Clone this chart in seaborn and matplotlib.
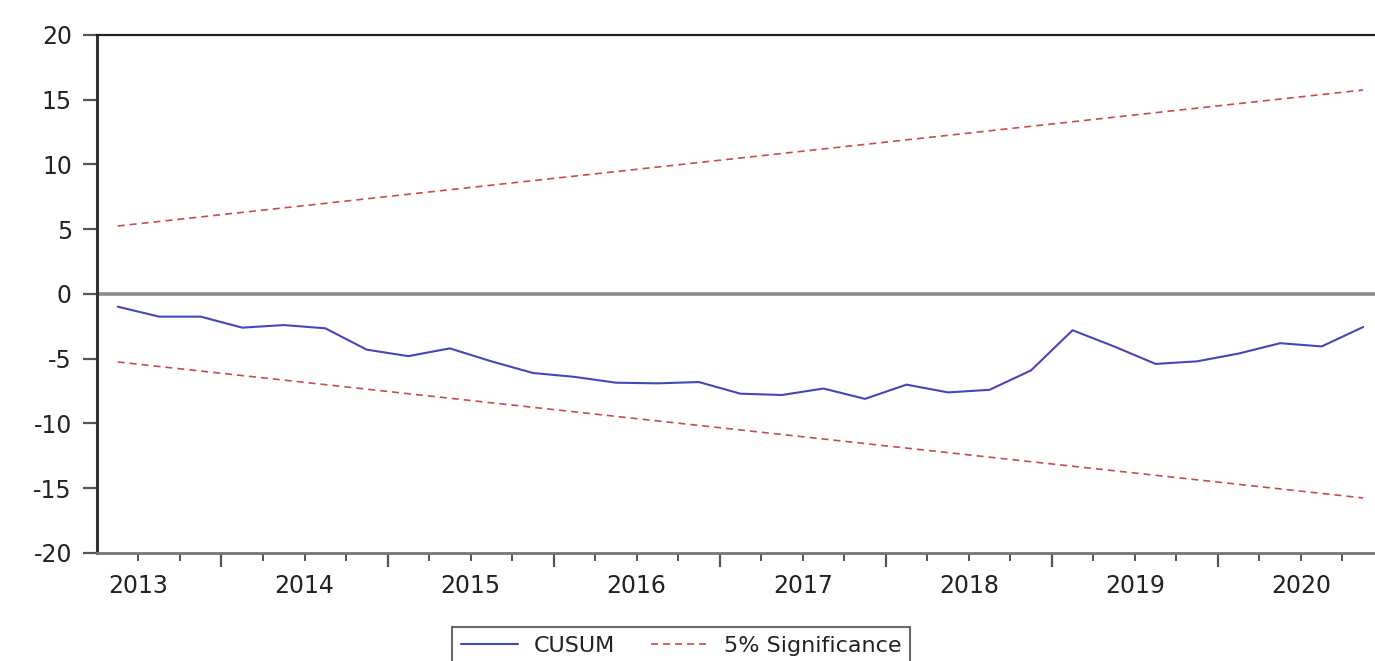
import numpy as np
import pandas as pd
import matplotlib.pyplot as plt
import seaborn as sns
from matplotlib.ticker import FixedLocator, FuncFormatter, MultipleLocator, NullFormatter

sns.set_style('ticks')
plt.rcParams['font.family'] = ['DejaVu Sans']
plt.rcParams['axes.unicode_minus'] = False

quarters = ['2013Q2', '2013Q3', '2013Q4',
            '2014Q1', '2014Q2', '2014Q3', '2014Q4',
            '2015Q1', '2015Q2', '2015Q3', '2015Q4',
            '2016Q1', '2016Q2', '2016Q3', '2016Q4',
            '2017Q1', '2017Q2', '2017Q3', '2017Q4',
            '2018Q1', '2018Q2', '2018Q3', '2018Q4',
            '2019Q1', '2019Q2', '2019Q3', '2019Q4',
            '2020Q1', '2020Q2', '2020Q3', '2020Q4']
cusum = [-0.98, -1.75, -1.75,
         -2.6, -2.4, -2.65, -4.3,
         -4.8, -4.2, -5.2, -6.1,
         -6.4, -6.85, -6.9, -6.8,
         -7.7, -7.8, -7.3, -8.1,
         -7.0, -7.6, -7.4, -5.9,
         -2.8, -4.05, -5.4, -5.2,
         -4.6, -3.8, -4.05, -2.55]

# 5% significance bounds are straight lines between first and last obs
bound_quarters = ['2013Q2', '2020Q4']
upper_5pct = [5.25, 15.75]
lower_5pct = [-5.25, -15.75]


def qpos(q):
    # centre of the quarter on a decimal-year axis
    return int(q[:4]) + (int(q[-1]) - 1) / 4 + 0.125


df = pd.DataFrame({'t': [qpos(q) for q in quarters], 'cusum': cusum})
bounds = pd.DataFrame({'t': [qpos(q) for q in bound_quarters],
                       'upper': upper_5pct, 'lower': lower_5pct})

fig = plt.figure(figsize=(13.75, 6.61), dpi=100)
ax = fig.add_axes([0.0705, 0.1634, 0.936, 0.7837])

ax.axhline(0, color='#8c8c8c', lw=2.6, zorder=1)
sns.lineplot(data=df, x='t', y='cusum', ax=ax, color='#4646b8', lw=1.5,
             label='CUSUM', zorder=3)
sns.lineplot(data=bounds, x='t', y='upper', ax=ax, color='#cc4a4a', lw=1.2,
             linestyle=(0, (4.2, 3.0)), label='5% Significance', zorder=2)
sns.lineplot(data=bounds, x='t', y='lower', ax=ax, color='#cc4a4a', lw=1.2,
             linestyle=(0, (4.2, 3.0)), zorder=2)
handles, labels = ax.get_legend_handles_labels()
if ax.get_legend() is not None:
    ax.get_legend().remove()

ax.set_xlim(2013.25, 2021.0)
ax.set_ylim(-20, 20)
ax.set_xlabel('')
ax.set_ylabel('')

ax.xaxis.set_major_locator(FixedLocator(list(range(2014, 2021))))
ax.xaxis.set_major_formatter(NullFormatter())
ax.xaxis.set_minor_locator(FixedLocator(list(np.arange(2013.5, 2021.0, 0.25))))
ax.xaxis.set_minor_formatter(FuncFormatter(
    lambda v, _: str(int(v)) if abs(v % 1 - 0.5) < 1e-6 else ''))
ax.yaxis.set_major_locator(MultipleLocator(5))

ax.tick_params(axis='x', which='major', length=10, width=1.6, color='#555555')
ax.tick_params(axis='x', which='minor', length=6, width=1.4, color='#555555',
               labelsize=17, pad=9, labelcolor='#222222')
ax.tick_params(axis='y', length=10, width=1.6, color='#555555',
               labelsize=17, pad=8, labelcolor='#222222')

ax.spines['right'].set_visible(False)
ax.spines['top'].set_color('#222222')
ax.spines['top'].set_linewidth(1.6)
ax.spines['left'].set_color('#333333')
ax.spines['left'].set_linewidth(2.2)
ax.spines['bottom'].set_color('#777777')
ax.spines['bottom'].set_linewidth(2.0)

leg = fig.legend(handles, labels, loc='upper center',
                 bbox_to_anchor=(681 / 1375, 1 - 627 / 661), ncol=2,
                 frameon=True, fancybox=False, edgecolor='#444444',
                 fontsize=16, handlelength=2.6, handletextpad=0.7,
                 columnspacing=1.6, borderpad=0.4, borderaxespad=0.0)
leg.get_frame().set_linewidth(1.5)
for txt in leg.get_texts():
    txt.set_color('#222222')

fig.savefig('out.png', dpi=100)
